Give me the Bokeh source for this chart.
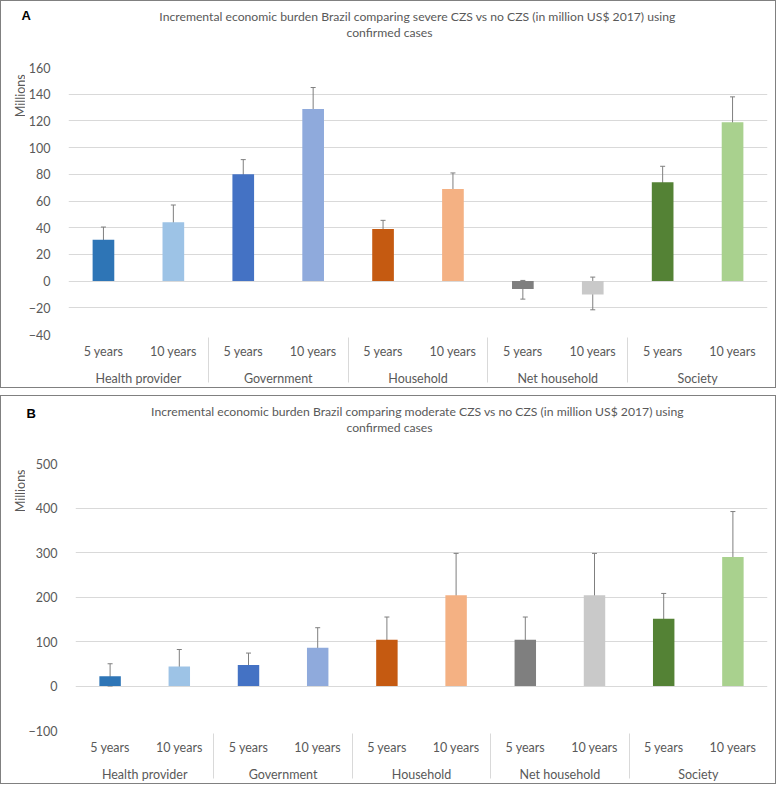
import math
from bokeh.plotting import figure
from bokeh.models import (ColumnDataSource, FactorRange, Range1d, Whisker, Label,
                          FixedTicker, TeeHead)
from bokeh.layouts import column, row
from bokeh.embed import file_html
from bokeh.resources import INLINE

# ---------------- data ----------------
groups = ["Health provider", "Government", "Household", "Net household", "Society"]
periods = ["5 years", "10 years"]
bar_colors = ["#2E75B6", "#9DC3E6", "#4472C4", "#8FAADC", "#C55A11",
              "#F4B183", "#7F7F7F", "#C9C9C9", "#548235", "#A9D18E"]

severe_values = [31, 44, 80, 129, 39, 69, -6, -10, 74, 119]
severe_lower = [24, 34, 71, 115, 31.5, 57.5, -13.5, -21.5, 63, 102]
severe_upper = [40.5, 57, 91, 145, 45.5, 81, 0.5, 3, 86, 138]
severe_ticks = [-40, -20, 0, 20, 40, 60, 80, 100, 120, 140, 160]

moderate_values = [22, 44, 47, 86, 104, 204, 104, 204, 151, 290]
moderate_lower = [0, 16, 24, 48, 58, 124, 58, 124, 100, 200]
moderate_upper = [50, 82, 74, 131, 155, 298, 155, 298, 208, 392]
moderate_ticks = [-100, 0, 100, 200, 300, 400, 500]

title_a = ["Incremental economic burden Brazil comparing severe CZS vs no CZS (in million US$ 2017) using",
           "confirmed cases"]
title_b = ["Incremental economic burden Brazil comparing moderate CZS vs no CZS (in million US$ 2017) using",
           "confirmed cases"]
unit_label = "Millions"

FONT = "Lato"
TXT = "#595959"
EDGE = "1px solid #808080"
W = 776          # inner width of a panel
STRIP = 25       # width of the strip holding the unit label
RIGHT, FH, BOTTOM, MTOP = 9, 267, 54, 10


def blank(width, height, styles):
    f = figure(width=width, height=height, output_backend="svg", toolbar_location=None,
               x_range=Range1d(0, width), y_range=Range1d(height, 0),
               x_axis_type=None, y_axis_type=None,
               min_border_left=0, min_border_right=0, min_border_top=0, min_border_bottom=0)
    f.outline_line_color = None
    f.xgrid.visible = False
    f.ygrid.visible = False
    f.background_fill_color = "white"
    f.border_fill_color = "white"
    f.styles = styles
    return f


def panel(letter, titles, vals, lows, highs, ticks, left, head_h, letter_pos, unit_y):
    # ---- header: panel letter and two-line title ----
    hd = blank(W, head_h, {"border-top": EDGE, "border-left": EDGE, "border-right": EDGE})
    hd.add_layout(Label(x=letter_pos[0], y=letter_pos[1], text=letter,
                        text_font="Liberation Sans", text_font_style="bold",
                        text_font_size="13px", text_color="black", text_baseline="middle"))
    hd.add_layout(Label(x=416, y=14.5, text=titles[0], text_font=FONT, text_font_size="12.2px",
                        text_color=TXT, text_align="center", text_baseline="middle"))
    hd.add_layout(Label(x=388, y=31, text=titles[1], text_font=FONT, text_font_size="12.2px",
                        text_color=TXT, text_align="center", text_baseline="middle"))

    mh = MTOP + FH + BOTTOM
    # ---- strip with unit label ----
    st = blank(STRIP, mh, {"border-left": EDGE, "border-bottom": EDGE})
    st.add_layout(Label(x=18.5, y=unit_y, text=unit_label, angle=math.pi / 2,
                        text_font=FONT, text_font_size="12.5px", text_color=TXT,
                        text_align="center", text_baseline="middle"))

    # ---- main chart ----
    factors = [(g, p) for g in groups for p in periods]
    src = ColumnDataSource(dict(x=factors, top=vals, lower=lows, upper=highs, color=bar_colors))
    p = figure(width=W - STRIP, height=mh, output_backend="svg", toolbar_location=None,
               x_range=FactorRange(*factors, factor_padding=0, group_padding=0, range_padding=0),
               y_range=Range1d(ticks[0], ticks[-1]),
               min_border_left=left - STRIP, min_border_right=RIGHT,
               min_border_top=MTOP, min_border_bottom=BOTTOM)
    p.styles = {"border-right": EDGE, "border-bottom": EDGE}
    p.outline_line_color = None
    p.background_fill_color = "white"
    p.border_fill_color = "white"
    p.vbar(x="x", top="top", bottom=0, width=0.31, color="color", source=src, line_color=None)
    w = Whisker(base="x", upper="upper", lower="lower", source=src,
                line_color="#7F7F7F", line_width=1,
                upper_head=TeeHead(size=5, line_color="#7F7F7F", line_width=1),
                lower_head=TeeHead(size=5, line_color="#7F7F7F", line_width=1))
    p.add_layout(w)

    p.xgrid.grid_line_color = None
    p.ygrid.grid_line_color = "#D9D9D9"
    p.ygrid.grid_line_width = 1
    p.yaxis.ticker = FixedTicker(ticks=ticks)
    p.yaxis.axis_line_color = None
    p.yaxis.major_tick_line_color = None
    p.yaxis.minor_tick_line_color = None
    p.yaxis.major_label_text_font = FONT
    p.yaxis.major_label_text_font_size = "12.5px"
    p.yaxis.major_label_text_color = TXT
    p.yaxis.major_label_standoff = 12

    xa = p.xaxis[0]
    xa.axis_line_color = None
    xa.major_tick_line_color = None
    xa.major_tick_out = 0
    xa.major_tick_in = 0
    xa.major_label_text_font = FONT
    xa.major_label_text_font_size = "12.5px"
    xa.major_label_text_color = TXT
    xa.major_label_standoff = 9
    xa.group_text_font = FONT
    xa.group_text_font_size = "12.5px"
    xa.group_text_color = TXT
    xa.group_text_font_style = "normal"
    xa.separator_line_color = "#D9D9D9"
    xa.separator_line_width = 1
    return column(hd, row(st, p))


pa = panel("A", title_a, severe_values, severe_lower, severe_upper, severe_ticks,
           61, 57, (20, 14), 35)
pb = panel("B", title_b, moderate_values, moderate_lower, moderate_upper, moderate_ticks,
           65, 58, (25, 17), 34)

layout = column(pa, pb, spacing=7)
open("out.html", "w").write(file_html(layout, INLINE))
